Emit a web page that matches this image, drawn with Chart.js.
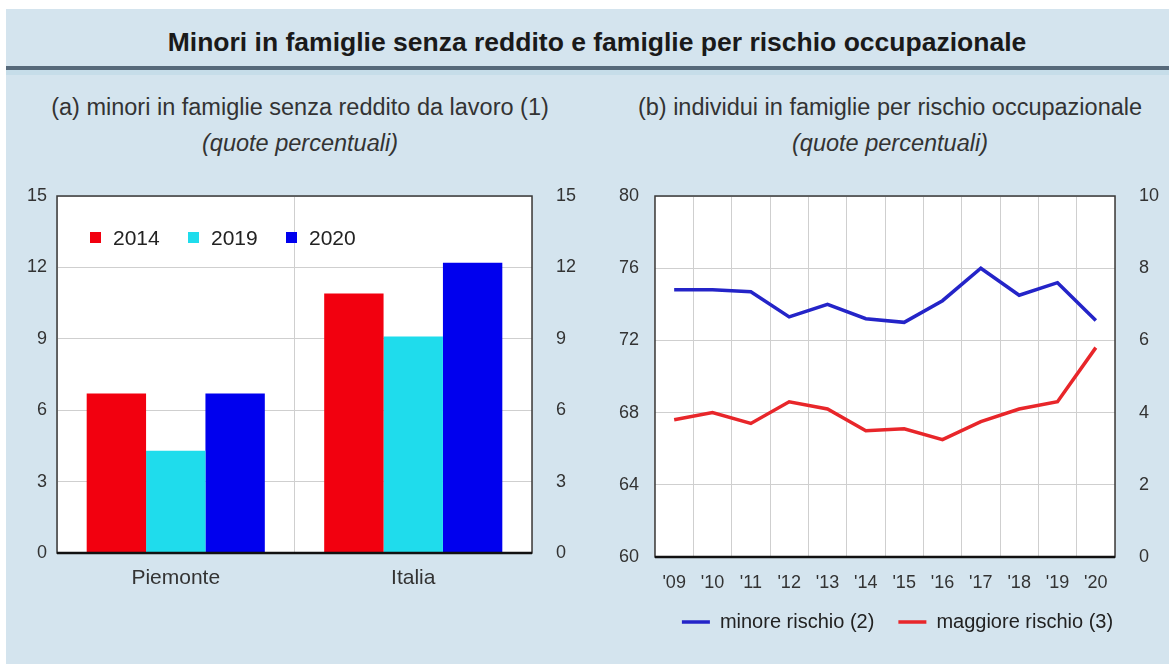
<!DOCTYPE html>
<html>
<head>
<meta charset="utf-8">
<script src="https://cdn.jsdelivr.net/npm/chart.js@4.4.1/dist/chart.umd.min.js"></script>
<style>
  body { margin: 0; width: 1169px; height: 664px; background: #fff; position: relative; overflow: hidden;
         font-family: "Liberation Sans", Arial, sans-serif; color: #222; }
  .abs { position: absolute; }
  #panel { left: 6px; top: 9px; right: 0; bottom: 0; background: #d4e4ee; }
  #title { left: 97px; width: 1000px; top: 27px; text-align: center; font-size: 26.5px; font-weight: bold; line-height: 30px; color: #1a1a1a; }
  #sep { left: 6px; right: 0; top: 66px; height: 4px; background: #56697a; }
  #sep2 { left: 6px; right: 0; top: 70px; height: 5px; background: #c6dde9; }
  .sub { width: 600px; text-align: center; font-size: 23.5px; line-height: 26px; color: #333; }
  .sub i { font-style: italic; }
  .leg { font-size: 21px; line-height: 24px; color: #222; }
  .sq { width: 11px; height: 11px; }
</style>
</head>
<body>
<div id="panel" class="abs"></div>
<div id="title" class="abs">Minori in famiglie senza reddito e famiglie per rischio occupazionale</div>
<div id="sep" class="abs"></div>
<div id="sep2" class="abs"></div>

<div class="abs sub" style="left:0px; top:94px;">(a) minori in famiglie senza reddito da lavoro (1)</div>
<div class="abs sub" style="left:0px; top:130px;"><i>(quote percentuali)</i></div>
<div class="abs sub" style="left:590px; top:94px;">(b) individui in famiglie per rischio occupazionale</div>
<div class="abs sub" style="left:590px; top:130px;"><i>(quote percentuali)</i></div>

<canvas id="chartA" class="abs" style="left:0px; top:180px;" width="600" height="420"></canvas>
<canvas id="chartB" class="abs" style="left:590px; top:180px;" width="579" height="484"></canvas>
<div id="legendA"></div>

<script>
// (a) minori in famiglie senza reddito da lavoro
const categorieA = ["Piemonte", "Italia"];
const anniA = ["2014", "2019", "2020"];
const val2014 = [6.7, 10.9];
const val2019 = [4.3, 9.1];
const val2020 = [6.7, 12.2];
const ticksA = [0, 3, 6, 9, 12, 15];

// (b) individui in famiglie per rischio occupazionale
const anniB = ["'09", "'10", "'11", "'12", "'13", "'14", "'15", "'16", "'17", "'18", "'19", "'20"];
const minoreRischio = [74.8, 74.8, 74.7, 73.3, 74.0, 73.2, 73.0, 74.2, 76.0, 74.5, 75.2, 73.1];
const maggioreRischio = [3.8, 4.0, 3.7, 4.3, 4.1, 3.5, 3.55, 3.25, 3.75, 4.1, 4.3, 5.8];
const ticksB = [60, 64, 68, 72, 76, 80];
const ticksB2 = [0, 2, 4, 6, 8, 10];

const coloriA = ["#f2000f", "#1fdcec", "#0000ee"];
const tickFont = { family: "Liberation Sans", size: 18 };
const tickColor = "#333";
const gridColor = "#cfcfcf";

// white plot area + dark frame
const frame = {
  id: "frame",
  beforeDraw(chart) {
    const a = chart.chartArea, ctx = chart.ctx;
    ctx.save();
    ctx.fillStyle = "#fff";
    ctx.fillRect(a.left, a.top, a.right - a.left, a.bottom - a.top);
    ctx.restore();
  },
  afterDraw(chart) {
    const a = chart.chartArea, ctx = chart.ctx;
    ctx.save();
    ctx.strokeStyle = "#3a3a3a";
    ctx.lineWidth = 1.5;
    ctx.strokeRect(a.left, a.top, a.right - a.left, a.bottom - a.top);
    ctx.strokeStyle = "#111";
    ctx.lineWidth = 2.5;
    ctx.beginPath();
    ctx.moveTo(a.left, a.bottom);
    ctx.lineTo(a.right, a.bottom);
    ctx.stroke();
    ctx.restore();
  }
};

// y axes: fixed width, no extra vertical padding from the tick labels
function fixWidth(w) {
  return (scale) => { scale.width = w; scale.paddingTop = 0; scale.paddingBottom = 0; };
}
function fixHeight(h) { return (scale) => { scale.height = h; }; }
function forceTicks(list) { return (scale) => { scale.ticks = list.map(v => ({ value: v })); }; }

new Chart(document.getElementById("chartA"), {
  type: "bar",
  data: {
    labels: categorieA,
    datasets: [
      { label: anniA[0], data: val2014, backgroundColor: coloriA[0] },
      { label: anniA[1], data: val2019, backgroundColor: coloriA[1] },
      { label: anniA[2], data: val2020, backgroundColor: coloriA[2] },
    ],
  },
  options: {
    responsive: false,
    animation: false,
    layout: { padding: { top: 16, bottom: 0, left: 0, right: 0 } },
    datasets: { bar: { categoryPercentage: 0.75, barPercentage: 1.0 } },
    plugins: { legend: { display: false }, tooltip: { enabled: false } },
    scales: {
      x: {
        offset: true,
        grid: { offset: true, color: gridColor, drawTicks: false },
        border: { display: false },
        ticks: { font: { family: "Liberation Sans", size: 21 }, color: tickColor, padding: 13 },
        afterFit: fixHeight(47),
      },
      y: {
        min: 0, max: 15,
        afterBuildTicks: forceTicks(ticksA),
        grid: { color: gridColor, drawTicks: false },
        border: { display: false },
        ticks: { font: tickFont, color: tickColor, padding: 10 },
        afterFit: fixWidth(57),
      },
      y2: {
        position: "right",
        min: 0, max: 15,
        afterBuildTicks: forceTicks(ticksA),
        grid: { display: false },
        border: { display: false },
        ticks: { font: tickFont, color: tickColor, padding: 16 },
        afterFit: fixWidth(68),
      },
    },
  },
  plugins: [frame],
});

// legend inside the plot of chart (a)
const legendA = document.getElementById("legendA");
const legPos = [90, 188, 286];
anniA.forEach((anno, i) => {
  const sq = document.createElement("div");
  sq.className = "abs sq";
  sq.style.left = legPos[i] + "px";
  sq.style.top = "232px";
  sq.style.background = coloriA[i];
  legendA.appendChild(sq);
  const t = document.createElement("div");
  t.className = "abs leg";
  t.style.left = (legPos[i] + 23) + "px";
  t.style.top = "226px";
  t.textContent = anno;
  legendA.appendChild(t);
});

// negative right padding: widens the legend box so it is centred like the original
new Chart(document.getElementById("chartB"), {
  type: "line",
  data: {
    labels: anniB,
    datasets: [
      { label: "minore rischio (2)", data: minoreRischio, yAxisID: "y",
        borderColor: "#2424c8", backgroundColor: "#2424c8", borderWidth: 3.5, pointRadius: 0, tension: 0 },
      { label: "maggiore rischio (3)", data: maggioreRischio, yAxisID: "y2",
        borderColor: "#e8262a", backgroundColor: "#e8262a", borderWidth: 3.5, pointRadius: 0, tension: 0 },
    ],
  },
  options: {
    responsive: false,
    animation: false,
    layout: { padding: { top: 16, bottom: 22, left: 0, right: -36 } },
    plugins: {
      tooltip: { enabled: false },
      legend: {
        position: "bottom",
        labels: {
          usePointStyle: true, pointStyle: "line", pointStyleWidth: 28,
          font: { family: "Liberation Sans", size: 20 }, color: "#222", padding: 24,
        },
      },
    },
    scales: {
      x: {
        offset: true,
        grid: { offset: true, color: gridColor, drawTicks: false },
        border: { display: false },
        ticks: { font: tickFont, color: tickColor, padding: 15, maxRotation: 0, autoSkip: false },
        afterFit: fixHeight(31),
      },
      y: {
        min: 60, max: 80,
        afterBuildTicks: forceTicks(ticksB),
        grid: { color: gridColor, drawTicks: false },
        border: { display: false },
        ticks: { font: tickFont, color: tickColor, padding: 16 },
        afterFit: fixWidth(65),
      },
      y2: {
        position: "right",
        min: 0, max: 10,
        afterBuildTicks: forceTicks(ticksB2),
        grid: { display: false },
        border: { display: false },
        ticks: { font: tickFont, color: tickColor, padding: 16 },
        afterFit: fixWidth(90),
      },
    },
  },
  plugins: [frame],
});
</script>
</body>
</html>
